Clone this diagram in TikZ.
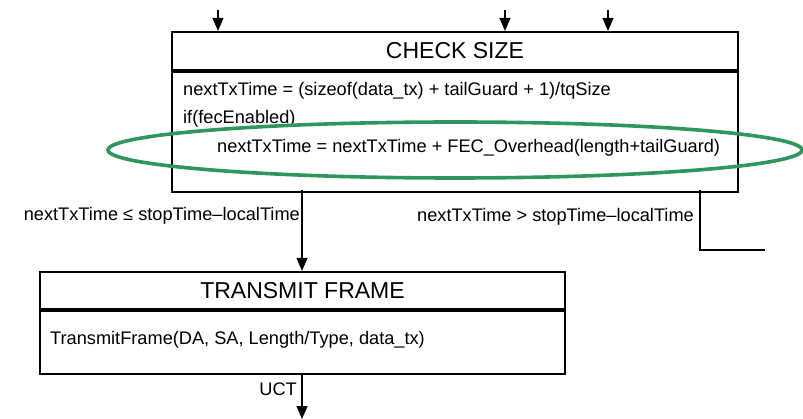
\documentclass[tikz,border=0pt]{standalone}
\usepackage{fontspec}
\setmainfont{Liberation Sans}
\usetikzlibrary{arrows.meta}
\definecolor{ovalgreen}{RGB}{48,150,95}
\tikzset{
  x=1pt, y=-1pt,
  boxpart/.style={draw, line width=2.2pt, rectangle, inner sep=0pt},
  titletext/.style={font=\fontsize{23}{25}\selectfont},
  bodytext/.style={font=\fontsize{18.2}{20}\selectfont, inner sep=0pt, anchor=west},
  labeltext/.style={font=\fontsize{18.2}{20}\selectfont, inner sep=0pt, anchor=east},
  conn/.style={line width=1.3pt, -{Triangle[length=13pt,width=11pt]}},
  plainconn/.style={line width=1.3pt},
  oval/.style={draw=ovalgreen, line width=3.6pt}
}
\begin{document}
\begin{tikzpicture}
\useasboundingbox (0,0) rectangle (803,419);
% CHECK SIZE
\node[boxpart, minimum width=566pt, minimum height=38pt, titletext] (cshead) at (455,51) {CHECK SIZE};
\node[boxpart, minimum width=566pt, minimum height=120pt, anchor=north] (csbody) at (cshead.south) {};
\node[bodytext] (l1) at (183,91) {nextTxTime = (sizeof(data\_tx) + tailGuard + 1)/tqSize};
\node[bodytext] (l2) at (183,119) {if(fecEnabled)};
\node[bodytext] (l3) at (217,148) {nextTxTime = nextTxTime + FEC\_Overhead(length+tailGuard)};
% incoming arrows
\coordinate (in1) at (218,10);
\coordinate (in2) at (505,10);
\coordinate (in3) at (608,10);
\draw[conn] (in1) -- (in1 |- cshead.north);
\draw[conn] (in2) -- (in2 |- cshead.north);
\draw[conn] (in3) -- (in3 |- cshead.north);
% TRANSMIT FRAME
\node[boxpart, minimum width=525pt, minimum height=37pt, titletext] (txhead) at (302.5,290.5) {TRANSMIT FRAME};
\node[boxpart, minimum width=525pt, minimum height=63pt, anchor=north] (txbody) at (txhead.south) {};
\node[bodytext] (t1) at (50,340) {TransmitFrame(DA, SA, Length/Type, data\_tx)};
% connectors
\coordinate (exitL) at (302,190);
\draw[conn] (exitL) -- (exitL |- txhead.north);
\node[labeltext] (lblL) at (300,216) {nextTxTime ≤ stopTime–localTime};
\coordinate (exitR) at (700,190);
\coordinate (exitRturn) at (700,250);
\coordinate (exitRend) at (765,250);
\draw[plainconn] (exitR) -- (exitRturn) -- (exitRend);
\node[labeltext] (lblR) at (694,217) {nextTxTime > stopTime–localTime};
\coordinate (outB) at (302,419);
\draw[conn] (302,0 |- txbody.south) -- (outB);
\node[labeltext] (uct) at (297,389) {UCT};
% highlight oval
\draw[oval] (455,150) ellipse [x radius=347pt, y radius=28pt];
\end{tikzpicture}
\end{document}
